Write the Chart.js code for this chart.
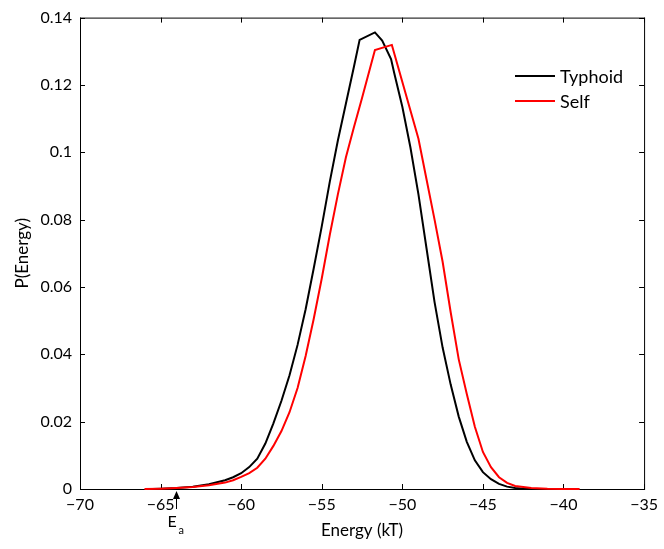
<!DOCTYPE html>
<html>
<head>
<meta charset="utf-8">
<script src="https://cdn.jsdelivr.net/npm/chart.js@4"></script>
<style>
  html, body { margin: 0; padding: 0; background: #fff; }
  #wrap { width: 664px; height: 549px; position: relative; }
</style>
</head>
<body>
<div id="wrap"><canvas id="grafico"></canvas></div>
<script>
// dados
const energiaTyphoid = [-65.5, -65, -64, -63, -62, -61, -60.5, -60, -59.5, -59, -58.5, -58, -57.5, -57, -56.5, -56, -55.5, -55, -54.5, -54,
  -53.5, -53, -52.65, -51.7, -51.25, -50.7, -50.5, -50, -49.5, -49, -48.5, -48, -47.5, -47, -46.5, -46, -45.5, -45, -44.5, -44,
  -43.5, -43, -42.5, -42, -41];
const probTyphoid = [0, 0.0001, 0.0003, 0.0007, 0.0014, 0.0026, 0.0035, 0.0047, 0.0065, 0.009, 0.0135, 0.0195, 0.0262, 0.0338, 0.0428, 0.0534, 0.0655, 0.078, 0.0913, 0.1035,
  0.1145, 0.1255, 0.1334, 0.1356, 0.1332, 0.1277, 0.1235, 0.1135, 0.1015, 0.0875, 0.0715, 0.0555, 0.042, 0.031, 0.0215, 0.014, 0.0085, 0.005, 0.0029, 0.0015,
  0.0007, 0.0003, 0.0001, 0.00003, 0];

const energiaSelf = [-66, -65, -64, -63, -62, -61, -60.5, -60, -59.5, -59, -58.5, -58, -57.5, -57, -56.5, -56, -55.5, -55, -54.5, -54,
  -53.5, -53, -52.5, -51.7, -50.65, -49, -48.5, -48, -47.5, -47, -46.5, -46, -45.5, -45, -44.5, -44, -43.5, -43, -42, -41, -40, -39];
const probSelf = [0, 0.0001, 0.0003, 0.0006, 0.0011, 0.0019, 0.0026, 0.0036, 0.0047, 0.0063, 0.009, 0.0128, 0.0172, 0.0228, 0.030, 0.0395, 0.0505, 0.0625, 0.0755, 0.0875,
  0.0985, 0.1075, 0.1161, 0.1304, 0.1319, 0.104, 0.092, 0.080, 0.0675, 0.0525, 0.0385, 0.0282, 0.0185, 0.011, 0.0065, 0.0035, 0.0018, 0.0009, 0.0003, 0.0001, 0.00003, 0];

const nomesSeries = ['Typhoid', 'Self'];
const coresSeries = ['#000000', '#ff0000'];
const xTicks = [-70, -65, -60, -55, -50, -45, -40, -35];
const yTicks = [0, 0.02, 0.04, 0.06, 0.08, 0.1, 0.12, 0.14];
const posEa = -64.05;

const fonte = 'Lato, "Open Sans", sans-serif';

function pontos(xs, ys) {
  return xs.map((x, i) => ({ x: x, y: ys[i] }));
}

function menos(v) {
  return String(v).replace('-', '\u2212');
}

// caixa, marcas internas, legenda e seta E_a
const extras = {
  id: 'extras',
  beforeDatasetsDraw(chart) {
    const { ctx, chartArea: a, scales: { x, y } } = chart;
    ctx.save();
    ctx.strokeStyle = '#000';
    ctx.lineWidth = 1;
    ctx.strokeRect(a.left + 0.5, a.top + 0.5, a.right - a.left, a.bottom - a.top);
    ctx.beginPath();
    xTicks.forEach(v => {
      const px = Math.round(x.getPixelForValue(v)) + 0.5;
      ctx.moveTo(px, a.bottom); ctx.lineTo(px, a.bottom - 5);
      ctx.moveTo(px, a.top); ctx.lineTo(px, a.top + 5);
    });
    yTicks.forEach(v => {
      const py = Math.round(y.getPixelForValue(v)) + 0.5;
      ctx.moveTo(a.left, py); ctx.lineTo(a.left + 5, py);
      ctx.moveTo(a.right, py); ctx.lineTo(a.right - 5, py);
    });
    ctx.stroke();
    ctx.restore();
  },
  afterDraw(chart) {
    const { ctx, chartArea: a, scales: { x } } = chart;
    ctx.save();
    // legenda
    chart.data.datasets.forEach((ds, i) => {
      const ly = 76 + i * 25;
      ctx.strokeStyle = ds.borderColor;
      ctx.lineWidth = 2;
      ctx.beginPath();
      ctx.moveTo(515, ly); ctx.lineTo(555, ly);
      ctx.stroke();
      ctx.fillStyle = '#000';
      ctx.font = '18px ' + fonte;
      ctx.textBaseline = 'middle';
      ctx.fillText(ds.label, 560, ly + 1);
    });
    // seta E_a
    const px = Math.round(x.getPixelForValue(posEa)) + 0.5;
    ctx.strokeStyle = '#000';
    ctx.fillStyle = '#000';
    ctx.lineWidth = 1;
    ctx.beginPath();
    ctx.moveTo(px, a.bottom + 20); ctx.lineTo(px, a.bottom + 6);
    ctx.stroke();
    ctx.beginPath();
    ctx.moveTo(px, a.bottom + 2);
    ctx.lineTo(px - 3.5, a.bottom + 10);
    ctx.lineTo(px + 3.5, a.bottom + 10);
    ctx.closePath();
    ctx.fill();
    ctx.textBaseline = 'alphabetic';
    ctx.font = '16px ' + fonte;
    ctx.fillText('E', px - 9, a.bottom + 38);
    ctx.font = '11px ' + fonte;
    ctx.fillText('a', px + 2, a.bottom + 45);
    ctx.restore();
  }
};

new Chart(document.getElementById('grafico'), {
  type: 'line',
  data: {
    datasets: [
      { label: nomesSeries[0], data: pontos(energiaTyphoid, probTyphoid), borderColor: coresSeries[0], order: 2 },
      { label: nomesSeries[1], data: pontos(energiaSelf, probSelf), borderColor: coresSeries[1], order: 1 }
    ]
  },
  options: {
    responsive: true,
    maintainAspectRatio: false,
    animation: false,
    layout: { padding: { top: 15, right: 9, left: 0, bottom: 0 } },
    elements: {
      point: { radius: 0 },
      line: { borderWidth: 2, tension: 0, fill: false }
    },
    datasets: { line: { clip: false } },
    plugins: {
      legend: { display: false },
      tooltip: { enabled: false }
    },
    scales: {
      x: {
        type: 'linear',
        min: -70, max: -35,
        afterFit: s => { s.height = 60; },
        afterBuildTicks: s => { s.ticks = xTicks.map(v => ({ value: v })); },
        grid: { display: false, drawTicks: false },
        border: { display: false },
        ticks: {
          color: '#000', padding: 6, maxRotation: 0, autoSkip: false,
          font: { family: fonte, size: 16 },
          callback: v => menos(v)
        },
        title: {
          display: true, text: 'Energy (kT)', color: '#000',
          font: { family: fonte, size: 17 }, padding: { top: 0, bottom: 8 }
        }
      },
      y: {
        min: 0, max: 0.14,
        afterFit: s => { s.width = 80; },
        afterBuildTicks: s => { s.ticks = yTicks.map(v => ({ value: v })); },
        grid: { display: false, drawTicks: false },
        border: { display: false },
        ticks: {
          color: '#000', padding: 8, autoSkip: false,
          font: { family: fonte, size: 16 },
          callback: v => String(+v.toFixed(2))
        },
        title: {
          display: true, text: 'P(Energy)', color: '#000',
          font: { family: fonte, size: 17 }, padding: { top: 12, bottom: 0 }
        }
      }
    }
  },
  plugins: [extras]
});
</script>
</body>
</html>
